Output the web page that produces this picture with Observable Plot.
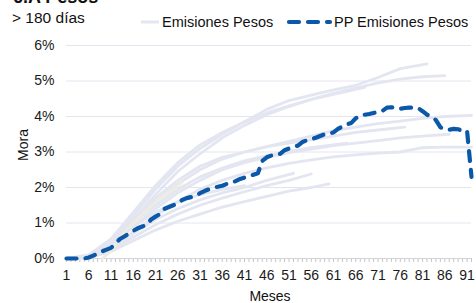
<!DOCTYPE html>
<html><head><meta charset="utf-8">
<script src="https://cdn.jsdelivr.net/npm/d3@7"></script>
<script src="https://cdn.jsdelivr.net/npm/@observablehq/plot@0.6"></script>
<style>
body{margin:0;background:#fff;font-family:"Liberation Sans",Arial,sans-serif;color:#111;}
#wrap{position:relative;width:476px;height:303px;overflow:hidden;background:#fff;}
#chart{position:absolute;left:0;top:0;}
.t{position:absolute;white-space:nowrap;line-height:1;}
#title{left:13px;top:-12px;font-weight:bold;font-size:18px;}
#sub{left:12px;top:10px;font-size:15.5px;}
#leg1{left:162px;top:15px;font-size:14.5px;}
#leg2{left:334px;top:15px;font-size:14.5px;}
#legsw{position:absolute;left:0;top:0;}
#ylab{left:23px;top:145px;font-size:14px;transform:translate(-50%,-50%) rotate(-90deg);}
#xlab{left:270px;top:289px;font-size:14px;transform:translateX(-50%);}
</style></head><body>
<div id="wrap">
  <div id="chart"></div>
  <div class="t" id="title">6.A Pesos</div>
  <div class="t" id="sub">&gt; 180 días</div>
  <svg id="legsw" width="476" height="40">
    <line x1="141" y1="22" x2="159" y2="22" stroke="#e3e6f1" stroke-width="3"/>
    <line x1="289" y1="22" x2="330" y2="22" stroke="#0b58a8" stroke-width="4.2" stroke-dasharray="10,9" stroke-linecap="round"/>
  </svg>
  <div class="t" id="leg1">Emisiones Pesos</div>
  <div class="t" id="leg2">PP Emisiones Pesos</div>
  <div class="t" id="ylab">Mora</div>
  <div class="t" id="xlab">Meses</div>
</div>
<script>
// Tick labels
const yTicks = [0, 1, 2, 3, 4, 5, 6];
const xTicks = [1, 6, 11, 16, 21, 26, 31, 36, 41, 46, 51, 56, 61, 66, 71, 76, 81, 86, 91];

// Individual issuance curves (month, % mora)
const emA = [[1,0],[6,0.05],[11,0.45],[16,1.2],[21,1.95],[26,2.6],[31,3.1],[36,3.5],[41,3.85],[46,4.2],[51,4.45],[56,4.6],[61,4.75],[66,4.88],[71,5.1],[76,5.35],[82,5.48]];
const emB = [[1,0],[6,0.05],[11,0.4],[16,1.1],[21,1.8],[26,2.45],[31,2.95],[36,3.4],[41,3.75],[46,4.05],[51,4.28],[56,4.48],[61,4.65],[66,4.8],[71,4.95],[76,5.05],[81,5.12],[86,5.15]];
const emC = [[1,0],[6,0.1],[11,0.55],[16,1.3],[21,2.05],[26,2.7],[31,3.2],[36,3.55],[41,3.85],[46,4.1],[51,4.3],[56,4.48],[61,4.62],[68,4.82]];
const emD = [[1,0],[6,0.05],[11,0.4],[16,1.0],[21,1.6],[26,2.1],[31,2.5],[36,2.8],[41,3.0],[46,3.15],[51,3.3],[56,3.45],[61,3.6],[66,3.7],[71,3.8],[76,3.87],[81,3.95],[86,4.0],[92,4.03]];
const emE = [[1,0],[6,0.05],[11,0.45],[16,1.1],[21,1.7],[26,2.2],[31,2.6],[36,2.85],[41,3.0],[46,3.15],[51,3.25],[56,3.35],[61,3.45],[66,3.55],[71,3.62],[77,3.7]];
const emF = [[1,0],[6,0.03],[11,0.35],[16,0.9],[21,1.4],[26,1.85],[31,2.2],[36,2.5],[41,2.7],[46,2.85],[51,2.98],[56,3.08],[61,3.18],[66,3.25],[71,3.32],[76,3.4],[81,3.45],[87,3.5]];
const emG = [[1,0],[6,0.02],[11,0.3],[16,0.75],[21,1.2],[26,1.6],[31,1.95],[36,2.2],[41,2.4],[46,2.55],[51,2.68],[56,2.78],[61,2.86],[66,2.92],[71,2.97],[76,3.0],[81,3.12],[86,3.14],[92,3.14]];
const emH = [[1,0],[6,0.05],[11,0.4],[16,1.0],[21,1.5],[26,1.95],[31,2.3],[36,2.55],[41,2.75],[46,2.9],[51,3.02],[56,3.12],[64,3.25]];
const emI = [[1,0],[6,0.02],[11,0.25],[16,0.6],[21,0.95],[26,1.25],[31,1.5],[36,1.7],[41,1.88],[46,2.05],[51,2.2],[56,2.38]];
const emJ = [[1,0],[6,0.03],[11,0.3],[16,0.7],[21,1.1],[26,1.4],[31,1.65],[36,1.85],[41,2.0],[46,2.2],[52,2.4]];
const emK = [[1,0],[6,0.02],[11,0.2],[16,0.5],[21,0.8],[26,1.05],[31,1.25],[36,1.45],[41,1.6],[46,1.75],[51,1.9],[56,2.0],[60,2.1]];
const emL = [[1,0],[6,0.05],[11,0.4],[16,0.9],[21,1.3],[26,1.6],[31,1.8],[36,1.95],[41,2.05]];
const emCream = [[9,0],[11,0.2],[13,0.6],[16,1.0],[19,1.35],[22,1.7],[25,1.95],[27,2.15]];

// Weighted average (PP) curve
const ppMonths = d3.range(1, 93);
const ppValues = [0,0,0,0,0,0.03,0.08,0.14,0.2,0.25,
  0.3,0.42,0.55,0.62,0.7,0.78,0.85,0.9,0.95,1.1,
  1.18,1.25,1.4,1.45,1.5,1.55,1.65,1.7,1.73,1.76,
  1.84,1.9,1.95,2.0,2.02,2.05,2.1,2.13,2.18,2.24,
  2.28,2.32,2.36,2.4,2.75,2.85,2.9,2.93,2.95,3.05,
  3.1,3.15,3.18,3.28,3.33,3.36,3.4,3.45,3.5,3.52,
  3.55,3.65,3.72,3.78,3.82,3.95,4.02,4.05,4.07,4.1,
  4.13,4.16,4.25,4.26,4.25,4.22,4.24,4.25,4.25,4.24,
  4.15,4.05,4.0,3.9,3.7,3.64,3.63,3.65,3.64,3.6,
  3.6,2.3];

const emSeries = [emA, emB, emC, emD, emE, emF, emG, emH, emI, emJ, emK, emL];
const lines = [];
emSeries.forEach((s, i) => s.forEach(([m, v]) => lines.push({serie: i, m, v})));
const cream = emCream.map(([m, v]) => ({m, v}));
const pp = ppMonths.map((m, i) => ({m, v: ppValues[i]}));

const chart = Plot.plot({
  width: 476, height: 303,
  marginTop: 45, marginBottom: 45, marginLeft: 66, marginRight: 5,
  style: {fontFamily: "Liberation Sans, Arial, sans-serif", fontSize: "14px", color: "#1a1a1a", background: "transparent"},
  x: {domain: [1, 92]},
  y: {domain: [0, 6]},
  marks: [
    Plot.gridY(yTicks.filter(t => t > 0), {stroke: "#e4e4ef", strokeOpacity: 1, strokeWidth: 1}),
    Plot.axisY(yTicks, {tickSize: 0, tickPadding: 12, tickFormat: d => d + "%", label: null}),
    Plot.axisX(d3.range(1, 93), {tickSize: 4, stroke: "#c4c4c4", tickFormat: () => "", label: null}),
    Plot.axisX(xTicks, {tickSize: 0, tickPadding: 12, label: null}),
    Plot.ruleY([0], {stroke: "#d2d2d8"}),
    Plot.line(lines, {x: "m", y: "v", z: "serie", stroke: "#e3e6f1", strokeWidth: 2.8}),
    Plot.line(cream, {x: "m", y: "v", stroke: "#eeebdf", strokeWidth: 2.8}),
    Plot.line(pp, {x: "m", y: "v", stroke: "#0b58a8", strokeWidth: 4.2, strokeDasharray: "10,9", strokeLinecap: "round", strokeLinejoin: "round"})
  ]
});
document.getElementById("chart").appendChild(chart);
</script>
</body></html>
